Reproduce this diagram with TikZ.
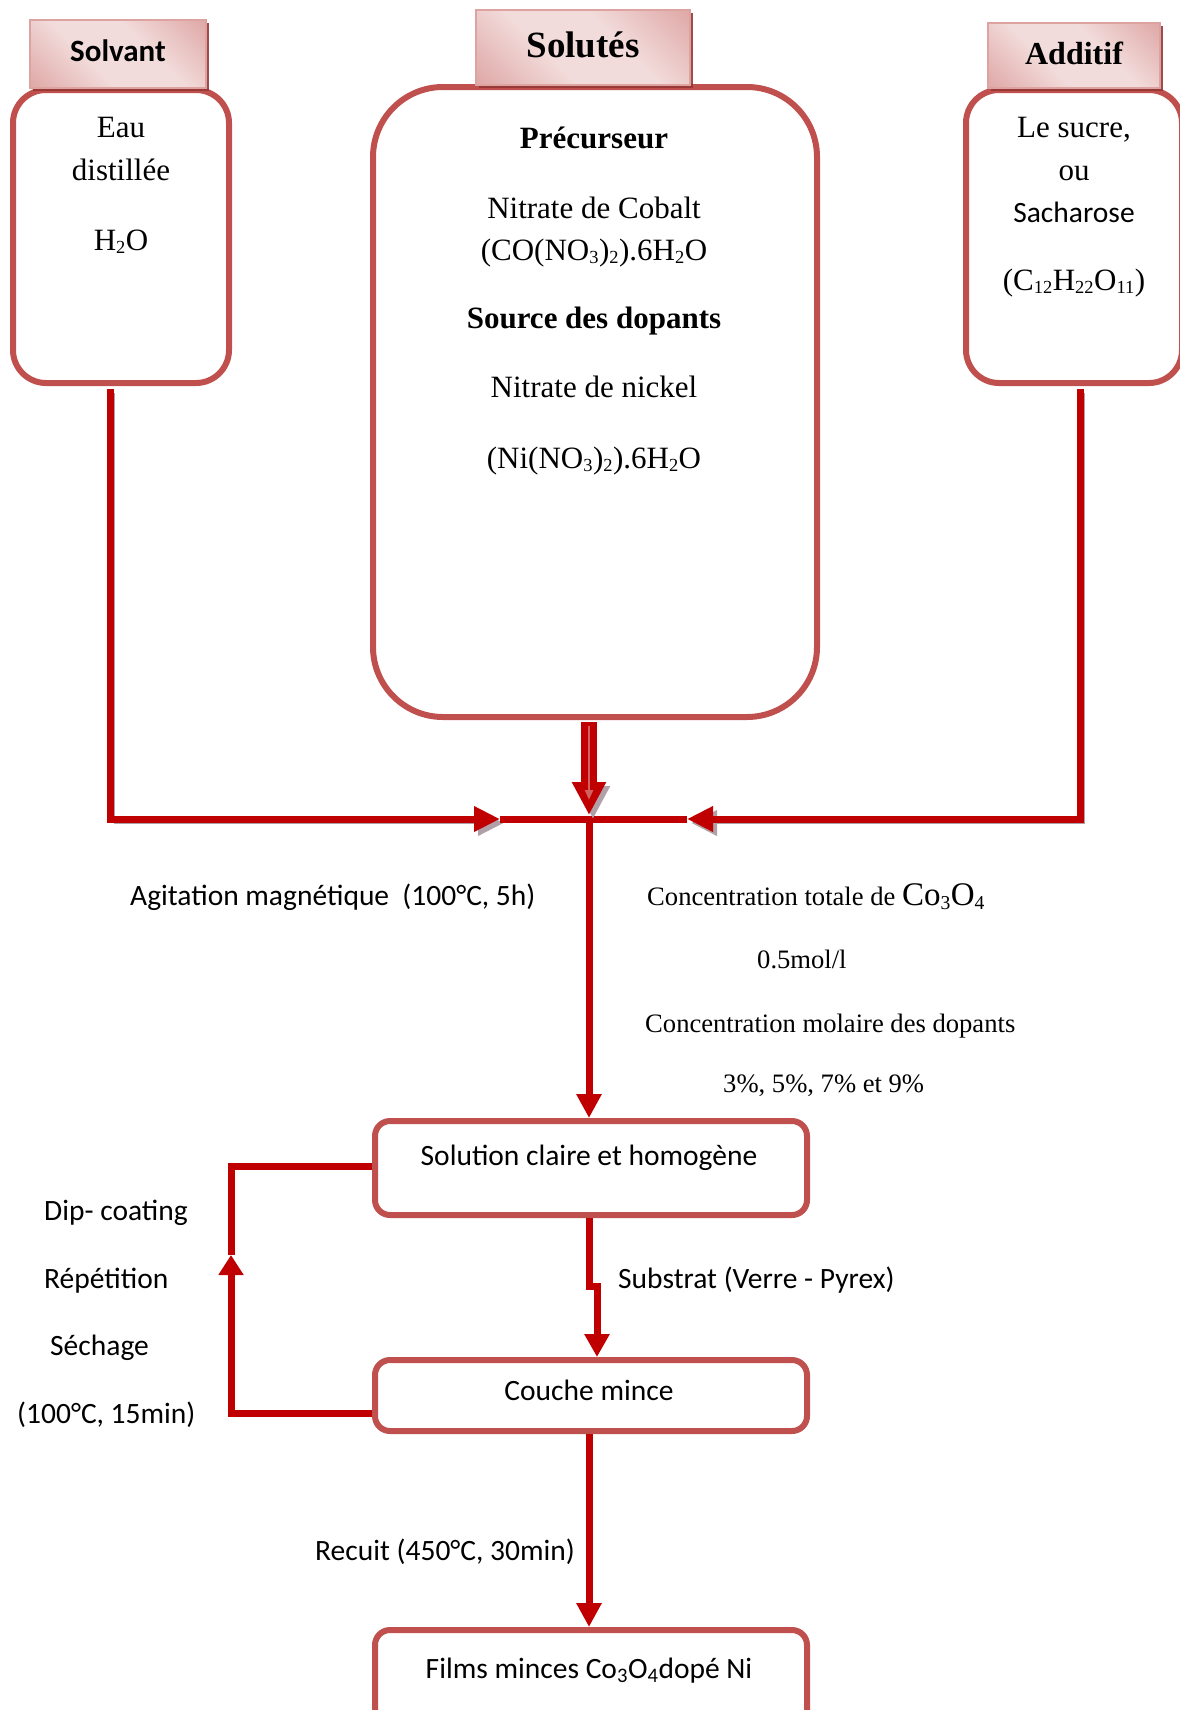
\documentclass[tikz,border=0pt]{standalone}
\usepackage{fontspec}
\setmainfont{Liberation Serif}
\newfontfamily\calibri{Carlito}
\usetikzlibrary{arrows.meta,shadows}

\definecolor{linkred}{HTML}{C00000}
\definecolor{boxred}{HTML}{C0504D}
\definecolor{tabdark}{HTML}{D38987}
\definecolor{tablight}{HTML}{F2DCDB}
\definecolor{tabedge}{HTML}{DDA3A1}
\definecolor{tabshadow}{HTML}{953735}
\definecolor{lineshadow}{HTML}{B0A0A8}
\definecolor{innerpink}{HTML}{D2605E}

\pgfdeclarehorizontalshading{tabgrad}{100bp}{color(0bp)=(tabdark); color(40bp)=(tablight); color(60bp)=(tablight); color(100bp)=(tabdark)}

\newcommand\lowsub[1]{\textsubscript{\scalebox{0.85}{#1}}}

\tikzset{
  panel/.style={draw=boxred, line width=6pt, rounded corners=#1, fill=white, inner sep=0pt},
  tabbox/.style={draw=tabedge, line width=1.5pt, shading=tabgrad, shading angle=45, inner sep=0pt,
    drop shadow={shadow xshift=2.5pt, shadow yshift=-3pt, fill=tabshadow, opacity=0.9}},
  link/.style={draw=linkred, line width=7pt},
  lshadow/.style={preaction={draw=lineshadow, transform canvas={shift={(4pt,-4pt)}}}},
  tip/.style={-{Triangle[length=#1,width=24pt]}},
  tm/.style={font=\fontsize{31}{36}\selectfont, inner sep=0pt, anchor=base},
  tmb/.style={font=\bfseries\fontsize{31}{36}\selectfont, inner sep=0pt, anchor=base},
  tms/.style={font=\fontsize{26.6}{32}\selectfont, inner sep=0pt, anchor=base west},
  cal/.style={font=\calibri\fontsize{29.5}{35}\selectfont, inner sep=0pt, anchor=base},
}

\begin{document}
\begin{tikzpicture}[x=1pt,y=-1pt]
\clip (0,0) rectangle (1180,1710);

% ---- input panels ----
\node[panel=33pt, minimum width=216pt, minimum height=293pt] (solv) at (121,236.5) {};
\node[panel=70pt, minimum width=444pt, minimum height=630pt] (solu) at (595,402) {};
\node[panel=33pt, minimum width=216pt, minimum height=293pt] (addi) at (1074,236.5) {};

% ---- title tabs ----
\node[tabbox, minimum width=176pt, minimum height=68pt] (tabsolv) at (118,54) {};
\node[tabbox, minimum width=214pt, minimum height=75pt] (tabsolu) at (583,47.5) {};
\node[tabbox, minimum width=172pt, minimum height=65pt] (tabaddi) at (1074,55.5) {};
\node[font=\calibri\bfseries\fontsize{31}{36}\selectfont, inner sep=0pt, anchor=base] (tsolv) at (118,62) {Solvant};
\node[font=\bfseries\fontsize{37}{42}\selectfont, inner sep=0pt, anchor=base] (tsolu) at (583,57) {Solutés};
\node[font=\bfseries\fontsize{32}{37}\selectfont, inner sep=0pt, anchor=base] (taddi) at (1074,65) {Additif};

% ---- panel contents ----
\node[tm] (eau) at (121,137) {Eau};
\node[tm] (dist) at (121,180) {distillée};
\node[tm] (h2o) at (121,250) {H\lowsub{2}O};

\node[tmb] (prec) at (594,148) {Précurseur};
\node[tm] (nitco) at (594,218) {Nitrate de Cobalt};
\node[tm] (fco) at (594,260) {(CO(NO\lowsub{3})\lowsub{2}).6H\lowsub{2}O};
\node[tmb] (srcdop) at (594,328) {Source des dopants};
\node[tm] (nitni) at (594,397) {Nitrate de nickel};
\node[tm] (fni) at (594,468) {(Ni(NO\lowsub{3})\lowsub{2}).6H\lowsub{2}O};

\node[tm] (sucre) at (1074,137) {Le sucre,};
\node[tm] (ou) at (1074,180) {ou};
\node[cal] (sach) at (1074,222) {Sacharose};
\node[tm] (fsach) at (1074,290) {(C\lowsub{12}H\lowsub{22}O\lowsub{11})};

% ---- process boxes ----
\node[panel=15pt, minimum width=432pt, minimum height=94pt] (sol) at (591,1168) {};
\node[panel=15pt, minimum width=432pt, minimum height=71pt] (couche) at (591,1395.5) {};
\node[panel=15pt, minimum width=432pt, minimum height=110pt] (films) at (591,1685) {};
\node[cal] (tsol) at (589,1165) {Solution claire et homogène};
\node[cal] (tcouche) at (589,1400) {Couche mince};
\node[cal] (tfilms) at (589,1678) {Films minces Co\textsubscript{3}O\textsubscript{4}dopé Ni};

% ---- mixing connectors ----
\coordinate (jl) at (500,819);
\coordinate (jr) at (687,819);
\coordinate (jc) at (589,819);
\coordinate (ctip) at (589,815);
\coordinate (cin) at (589,800);

\draw[link, lshadow, tip=26pt] ([xshift=-11pt,yshift=-3pt]solv.south) |- (jl);
\draw[link, lshadow, tip=26pt] ([xshift=6pt,yshift=-3pt]addi.south) |- (jr);
\draw[link] (jl) -- (jr);
\draw[draw=linkred, line width=16pt, lshadow, -{Triangle[length=33pt,width=32pt]}]
  ([xshift=-6pt,yshift=-2pt]solu.south) -- (ctip);
\draw[draw=innerpink, line width=2.5pt, -{Triangle[length=10pt,width=8pt]}]
  ([xshift=-6pt,yshift=-6pt]solu.south) -- (cin);
\draw[link, tip=24pt] (jc) -- (jc |- sol.north);

% ---- deposition loop ----
\coordinate (jog) at (597,1286);
\draw[link, tip=23pt] ([xshift=-2pt]sol.south) |- (jog) -- (jog |- couche.north);
\coordinate (lpb) at (231,1413);
\coordinate (lpt) at (231,1166);
\coordinate (lparr) at (231,1255);
\draw[link, tip=20pt] (couche.west |- lpb) -- (lpb) -- (lparr);
\draw[link] (lparr) -- (lpt) -- (sol.west |- lpt);
\draw[link, tip=24pt] ([xshift=-2pt]couche.south) -- ([xshift=-2pt]films.north);

% ---- labels ----
\node[cal, anchor=base west] (agit) at (130,905) {Agitation magnétique\ \ (100°C, 5h)};
\node[tms] (ctot) at (647,905) {Concentration totale de {\fontsize{33}{38}\selectfont Co\lowsub{3}O\lowsub{4}}};
\node[tms] (cval) at (757,968) {0.5mol/l};
\node[tms] (cmol) at (645,1032) {Concentration molaire des dopants};
\node[tms] (cpct) at (723,1092) {3\%, 5\%, 7\% et 9\%};
\node[cal, anchor=base west] (subst) at (618,1288) {Substrat (Verre - Pyrex)};
\node[cal, anchor=base west] (dip) at (44,1220) {Dip- coating};
\node[cal, anchor=base west] (rep) at (44,1288) {Répétition};
\node[cal, anchor=base west] (sech) at (50,1355) {Séchage};
\node[cal, anchor=base west] (sechtemp) at (17,1423) {(100°C, 15min)};
\node[cal, anchor=base west] (recuit) at (315,1560) {Recuit (450°C, 30min)};
\end{tikzpicture}
\end{document}
